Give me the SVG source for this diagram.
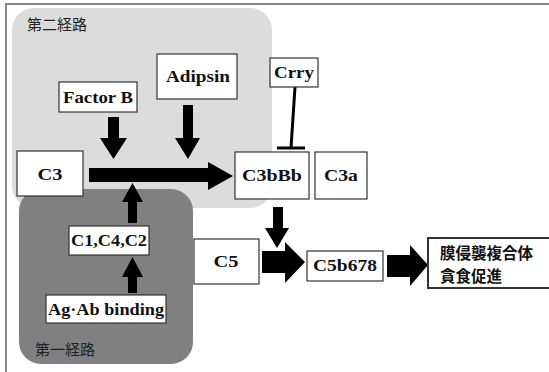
<svg xmlns="http://www.w3.org/2000/svg" width="549" height="372" viewBox="0 0 549 372">
<style>
.box{fill:#fff;stroke:#333;stroke-width:1.2}
.t{font-family:"Liberation Serif","Times New Roman",Times,"DejaVu Serif","Noto Serif",serif;font-weight:bold;font-size:16px;fill:#111;text-anchor:middle}
.jp{font-family:"Noto Sans CJK JP",sans-serif;font-size:15px;fill:#222}
.jpb{font-family:"Noto Sans CJK JP",sans-serif;font-size:15.5px;font-weight:bold;fill:#111}
.ar{fill:#000}
</style>
<rect width="549" height="372" fill="#fff"/>
<path d="M6 372 V4 H549" fill="none" stroke="#888" stroke-width="2"/>
<g id="pathway2">
<rect x="12" y="8" width="260" height="200" rx="22" fill="#dcdcdc"/>
<text class="jp" x="27" y="30">第二経路</text>
</g>
<g id="pathway1">
<rect x="19" y="189" width="174" height="175" rx="22" fill="#808080"/>
<text class="jp" x="35" y="355">第一経路</text>
</g>
<g id="connectors">
<polygon class="ar" points="108,117 119,117 119,138 127,138 113.5,159 100,138 108,138"/>
<polygon class="ar" points="183,105 193,105 193,138 200,138 188,159 175,138 183,138"/>
<polygon class="ar" points="89,168 208,168 208,162 233,176 208,190 208,182 89,182"/>
<polygon class="ar" points="128,223 137,223 137,202 143,202 132.5,183 122,202 128,202"/>
<polygon class="ar" points="128,293 137,293 137,277 143,277 132.5,257 122,277 128,277"/>
<polygon class="ar" points="273,207 283,207 283,228 289,228 277,248 265,228 273,228"/>
<polygon class="ar" points="262,251 285,251 285,242 305,262 285,283 285,273 262,273"/>
<polygon class="ar" points="387,255 410,255 410,245 428,265 410,286 410,277 387,277"/>
<path d="M295 87 L291 148 M277 148 H305" fill="none" stroke="#000" stroke-width="3"/>
</g>
<g id="factorB"><rect class="box" x="59" y="82" width="78" height="30"/><text class="t" x="98" y="103" textLength="70" lengthAdjust="spacingAndGlyphs">Factor B</text></g>
<g id="adipsin"><rect class="box" x="157" y="54" width="80" height="45"/><text class="t" x="198" y="82" textLength="64" lengthAdjust="spacingAndGlyphs">Adipsin</text></g>
<g id="crry"><rect class="box" x="270" y="58" width="48" height="29"/><text class="t" x="294" y="78" textLength="40" lengthAdjust="spacingAndGlyphs">Crry</text></g>
<g id="c3"><rect class="box" x="17" y="151" width="66" height="45"/><text class="t" x="50" y="180" textLength="25" lengthAdjust="spacingAndGlyphs">C3</text></g>
<g id="c3bbb"><rect class="box" x="235" y="152" width="74" height="47"/><text class="t" x="272" y="181" textLength="60" lengthAdjust="spacingAndGlyphs">C3bBb</text></g>
<g id="c3a"><rect class="box" x="315" y="152" width="52" height="47"/><text class="t" x="341" y="181" textLength="34" lengthAdjust="spacingAndGlyphs">C3a</text></g>
<g id="c1c4c2"><rect class="box" x="69" y="226" width="80" height="29"/><text class="t" x="109" y="246" textLength="76" lengthAdjust="spacingAndGlyphs">C1,C4,C2</text></g>
<g id="agab"><rect class="box" x="46" y="295" width="120" height="28"/><text class="t" x="106" y="315" textLength="116" lengthAdjust="spacingAndGlyphs">Ag·Ab binding</text></g>
<g id="c5"><rect class="box" x="194" y="239" width="65" height="45"/><text class="t" x="226" y="267" textLength="25" lengthAdjust="spacingAndGlyphs">C5</text></g>
<g id="c5b678"><rect class="box" x="307" y="251" width="76" height="30"/><text class="t" x="345" y="271" textLength="64" lengthAdjust="spacingAndGlyphs">C5b678</text></g>
<g id="result"><rect x="428" y="238" width="130" height="50" fill="#fff" stroke="#333" stroke-width="2"/>
<text class="jpb" x="440" y="259">膜侵襲複合体</text>
<text class="jpb" x="440" y="282">貪食促進</text></g>
</svg>
